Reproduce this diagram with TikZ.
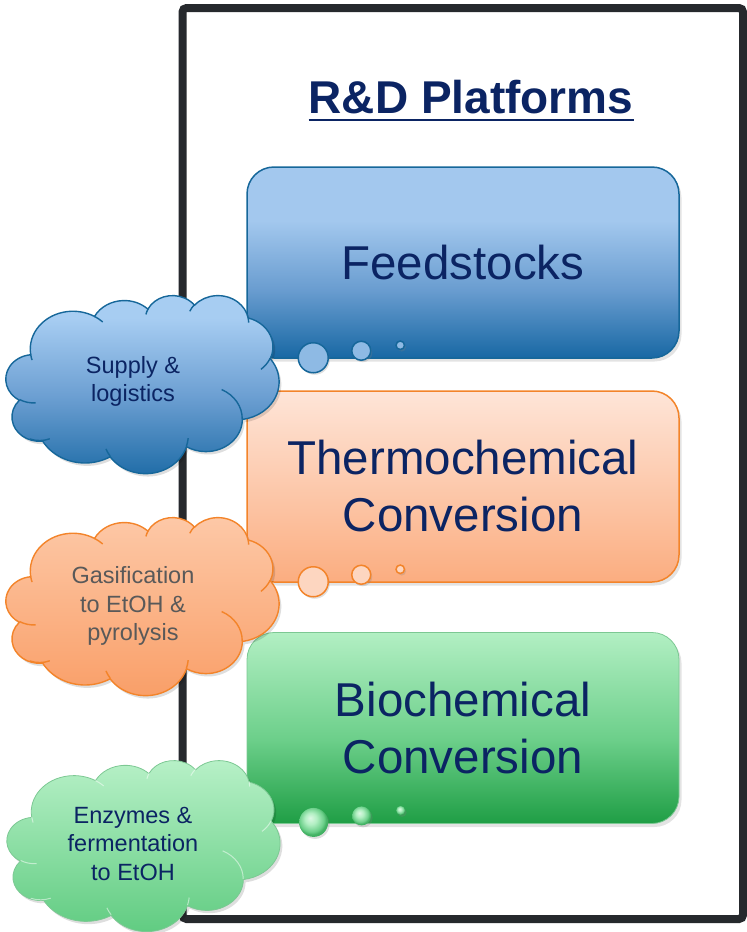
\documentclass[tikz,border=0pt]{standalone}
\usepackage{fontspec}
\setmainfont{Liberation Sans}
\usetikzlibrary{shadows,calc}

% palette
\definecolor{navy}{HTML}{0B2463}
\definecolor{frameclr}{HTML}{26292D}
\definecolor{greytext}{HTML}{595959}
\definecolor{feedTop}{HTML}{A3C8EE}
\definecolor{feedMid}{HTML}{6A9DD0}
\definecolor{feedBot}{HTML}{1868A4}
\definecolor{feedEdge}{HTML}{16679A}
\definecolor{feedBubble}{HTML}{8EBAE4}
\definecolor{thermTop}{HTML}{FEE5D8}
\definecolor{thermBot}{HTML}{FBAD80}
\definecolor{thermEdge}{HTML}{F3842A}
\definecolor{thermBubble}{HTML}{FDD6C0}
\definecolor{bioTop}{HTML}{B2EFC3}
\definecolor{bioMid}{HTML}{6CCF8A}
\definecolor{bioBot}{HTML}{1F9E45}
\definecolor{bioEdge}{HTML}{7CC893}
\definecolor{cloudBTop}{HTML}{A7CDF2}
\definecolor{cloudBMid}{HTML}{6C9FD2}
\definecolor{cloudBBot}{HTML}{1D6BA6}
\definecolor{cloudOTop}{HTML}{FDC9A8}
\definecolor{cloudOBot}{HTML}{F99E67}
\definecolor{cloudGTop}{HTML}{B8F1C8}
\definecolor{cloudGBot}{HTML}{5FCB80}

% vertical fills (TikZ maps 25bp..75bp onto the shaded path)
\pgfdeclareverticalshading{feedshade}{100bp}{color(0bp)=(feedBot); color(25bp)=(feedBot); color(43bp)=(feedMid); color(61bp)=(feedTop); color(100bp)=(feedTop)}
\pgfdeclareverticalshading{thermshade}{100bp}{color(0bp)=(thermBot); color(25bp)=(thermBot); color(75bp)=(thermTop); color(100bp)=(thermTop)}
\pgfdeclareverticalshading{bioshade}{100bp}{color(0bp)=(bioBot); color(25bp)=(bioBot); color(47bp)=(bioMid); color(75bp)=(bioTop); color(100bp)=(bioTop)}
\pgfdeclareverticalshading{cloudBshade}{100bp}{color(0bp)=(cloudBBot); color(25bp)=(cloudBBot); color(47bp)=(cloudBMid); color(68bp)=(cloudBTop); color(100bp)=(cloudBTop)}
\pgfdeclareverticalshading{cloudOshade}{100bp}{color(0bp)=(cloudOBot); color(25bp)=(cloudOBot); color(75bp)=(cloudOTop); color(100bp)=(cloudOTop)}
\pgfdeclareverticalshading{cloudGshade}{100bp}{color(0bp)=(cloudGBot); color(25bp)=(cloudGBot); color(75bp)=(cloudGTop); color(100bp)=(cloudGTop)}
\pgfdeclareradialshading{gbubble}{\pgfpoint{-6bp}{8bp}}{color(0bp)=(white!55!bioTop); color(10bp)=(bioTop); color(21bp)=(bioMid); color(25bp)=(bioBot!75!bioTop); color(50bp)=(bioBot)}

% cloud outline on a 43.2 x 43.2 grid; arc angles are given as ray angles
% and converted to the parametric angles that TikZ's elliptic arcs use
\newcommand\addcloudarc[5]{%
  \pgfmathsetmacro\ooS{atan2((#2)*sin(#4),(#3)*cos(#4))}%
  \pgfmathsetmacro\ooE{atan2((#2)*sin((#4)+(#5)),(#3)*cos((#4)+(#5)))}%
  \pgfmathsetmacro\ooD{mod(\ooE-\ooS+720,360)}%
  \xdef#1{#1 arc[start angle=\ooS, delta angle=\ooD, x radius=#2, y radius=#3]}}
\newcommand\addcloudmove[2]{\xdef#1{#1 (#2)}}

\gdef\cloudpath{(3.900,14.370)}
\addcloudarc\cloudpath{6.753}{9.190}{-190.4875}{123.7805}
\addcloudarc\cloudpath{5.333}{7.267}{-144.1024}{89.9452}
\addcloudarc\cloudpath{4.365}{5.945}{-145.8079}{99.7230}
\addcloudarc\cloudpath{4.857}{6.595}{-130.9861}{117.2417}
\addcloudarc\cloudpath{5.333}{7.273}{-78.7089}{109.0269}
\addcloudarc\cloudpath{6.775}{9.220}{-46.2673}{130.2690}
\addcloudarc\cloudpath{5.785}{7.867}{0.6250}{114.0333}
\addcloudarc\cloudpath{6.752}{9.215}{22.4516}{115.1726}
\addcloudarc\cloudpath{7.720}{10.543}{66.2426}{75.7110}
\addcloudarc\cloudpath{4.360}{5.918}{-274.9421}{146.7356}
\addcloudarc\cloudpath{4.345}{5.945}{-246.8285}{152.5253}

\gdef\cloudinner{}
\addcloudmove\cloudinner{4.693,26.177}
\addcloudarc\cloudinner{4.345}{5.945}{86.742}{26.4295}
\addcloudmove\cloudinner{6.928,34.899}
\addcloudarc\cloudinner{4.360}{5.918}{73.6027}{31.9936}
\addcloudmove\cloudinner{16.478,39.090}
\addcloudarc\cloudinner{6.752}{9.215}{137.6242}{14.0809}
\addcloudmove\cloudinner{28.827,34.751}
\addcloudarc\cloudinner{6.752}{9.215}{6.4533}{15.9866}
\addcloudmove\cloudinner{34.129,22.954}
\addcloudarc\cloudinner{5.785}{7.867}{-70.2924}{70.9174}
\addcloudmove\cloudinner{41.798,15.354}
\addcloudarc\cloudinner{5.333}{7.273}{30.3180}{27.7515}
\addcloudmove\cloudinner{38.324,5.426}
\addcloudarc\cloudinner{4.857}{6.595}{-13.7443}{14.8589}
\addcloudmove\cloudinner{29.078,3.952}
\addcloudarc\cloudinner{4.857}{6.595}{-149.1815}{18.1954}
\addcloudmove\cloudinner{22.141,4.720}
\addcloudarc\cloudinner{4.365}{5.945}{-163.4943}{17.6864}
\addcloudmove\cloudinner{14.000,5.192}
\addcloudarc\cloudinner{6.753}{9.190}{-66.7070}{12.3194}
\addcloudmove\cloudinner{4.127,15.789}
\addcloudarc\cloudinner{6.753}{9.190}{157.6544}{11.8582}

\begin{document}
\begin{tikzpicture}[x=1pt,y=-1pt,
  platform/.style={rounded corners=27pt, minimum width=432pt, minimum height=191pt,
    inner sep=0pt, align=center, text=navy, font=\fontsize{47.5}{57}\selectfont,
    line width=1.5pt, shade,
    drop shadow={shadow xshift=2.5pt,shadow yshift=-3.5pt,opacity=.22}},
  bubble/.style={circle, inner sep=0pt, minimum size=#1pt, line width=1.5pt,
    drop shadow={shadow xshift=1.5pt,shadow yshift=-2pt,opacity=.25}},
  cloudtext/.style={align=center, inner sep=0pt, font=\fontsize{23.5}{28.5}\selectfont},
  cloudshadow/.style={fill=black, opacity=.13},
]
\useasboundingbox (0,0) rectangle (747,932);

% outer frame
\node[draw=frameclr, line width=8pt, rounded corners=4pt, minimum width=560.5pt,
  minimum height=911pt, inner sep=0pt] (frame) at (462.75,463.5) {};

% heading
\node[anchor=base, inner sep=0pt, text=navy, font=\bfseries\fontsize{46}{50}\selectfont]
  (title) at (471,113) {R\&D Platforms};
\draw[navy, line width=2.5pt] ([yshift=-7pt]title.base west) -- ([yshift=-7pt]title.base east);

% platform boxes
\node[platform, shading=feedshade, draw=feedEdge] (feed) at (463,262.5) {Feedstocks};
\node[platform, shading=thermshade, draw=thermEdge] (therm) at (463,486.5) {Thermochemical\\Conversion};
\node[platform, shading=bioshade, draw=bioEdge, line width=.8pt] (bio) at (463,728) {Biochemical\\Conversion};

% thought bubbles
\node[bubble=30, fill=feedBubble, draw=feedEdge] (feedB1) at ($(feed.south west)+(67,-1)$) {};
\node[bubble=19, fill=feedBubble, draw=feedEdge] (feedB2) at ($(feed.south west)+(115,-8)$) {};
\node[bubble=8.5, fill=feedBubble, draw=feedEdge] (feedB3) at ($(feed.south west)+(154,-13.5)$) {};
\node[bubble=30, fill=thermBubble, draw=thermEdge] (thermB1) at ($(therm.south west)+(67,-1)$) {};
\node[bubble=19, fill=thermBubble, draw=thermEdge] (thermB2) at ($(therm.south west)+(115,-8)$) {};
\node[bubble=8.5, fill=thermBubble, draw=thermEdge] (thermB3) at ($(therm.south west)+(154,-13.5)$) {};
\node[bubble=29, shading=gbubble, shade, line width=0pt] (bioB1) at ($(bio.south west)+(67,-1.5)$) {};
\node[bubble=19, shading=gbubble, shade, line width=0pt] (bioB2) at ($(bio.south west)+(115,-8)$) {};
\node[bubble=9, shading=gbubble, shade, line width=0pt] (bioB3) at ($(bio.south west)+(154,-13.5)$) {};

% clouds
\begin{scope}[shift={(6,295)}, x=6.3194pt, y=-4.1204pt]
  \path[cloudshadow, shift={(0.35,0.7)}] \cloudpath -- cycle;
  \path[shading=cloudBshade, shade, draw=feedEdge, line width=1.4pt] \cloudpath -- cycle;
  \draw[feedEdge, line width=1.4pt] \cloudinner;
\end{scope}
\begin{scope}[shift={(6,517)}, x=6.3194pt, y=-4.1204pt]
  \path[cloudshadow, shift={(0.35,0.7)}] \cloudpath -- cycle;
  \path[shading=cloudOshade, shade, draw=thermEdge, line width=1.4pt] \cloudpath -- cycle;
  \draw[thermEdge, line width=1.4pt] \cloudinner;
\end{scope}
\begin{scope}[shift={(7,760)}, x=6.3194pt, y=-3.9583pt]
  \path[cloudshadow, shift={(0.35,0.7)}] \cloudpath -- cycle;
  \path[shading=cloudGshade, shade, draw=bioEdge, line width=.8pt] \cloudpath -- cycle;
  \draw[white, opacity=.5, line width=1pt] \cloudinner;
\end{scope}

\node[cloudtext, text=navy] (supply) at (133,381.5) {Supply \&\\logistics};
\node[cloudtext, text=greytext] (gasif) at (133,606) {Gasification\\to EtOH \&\\pyrolysis};
\node[cloudtext, text=navy] (enzymes) at (133,843.5) {Enzymes \&\\fermentation\\to EtOH};
\end{tikzpicture}
\end{document}
